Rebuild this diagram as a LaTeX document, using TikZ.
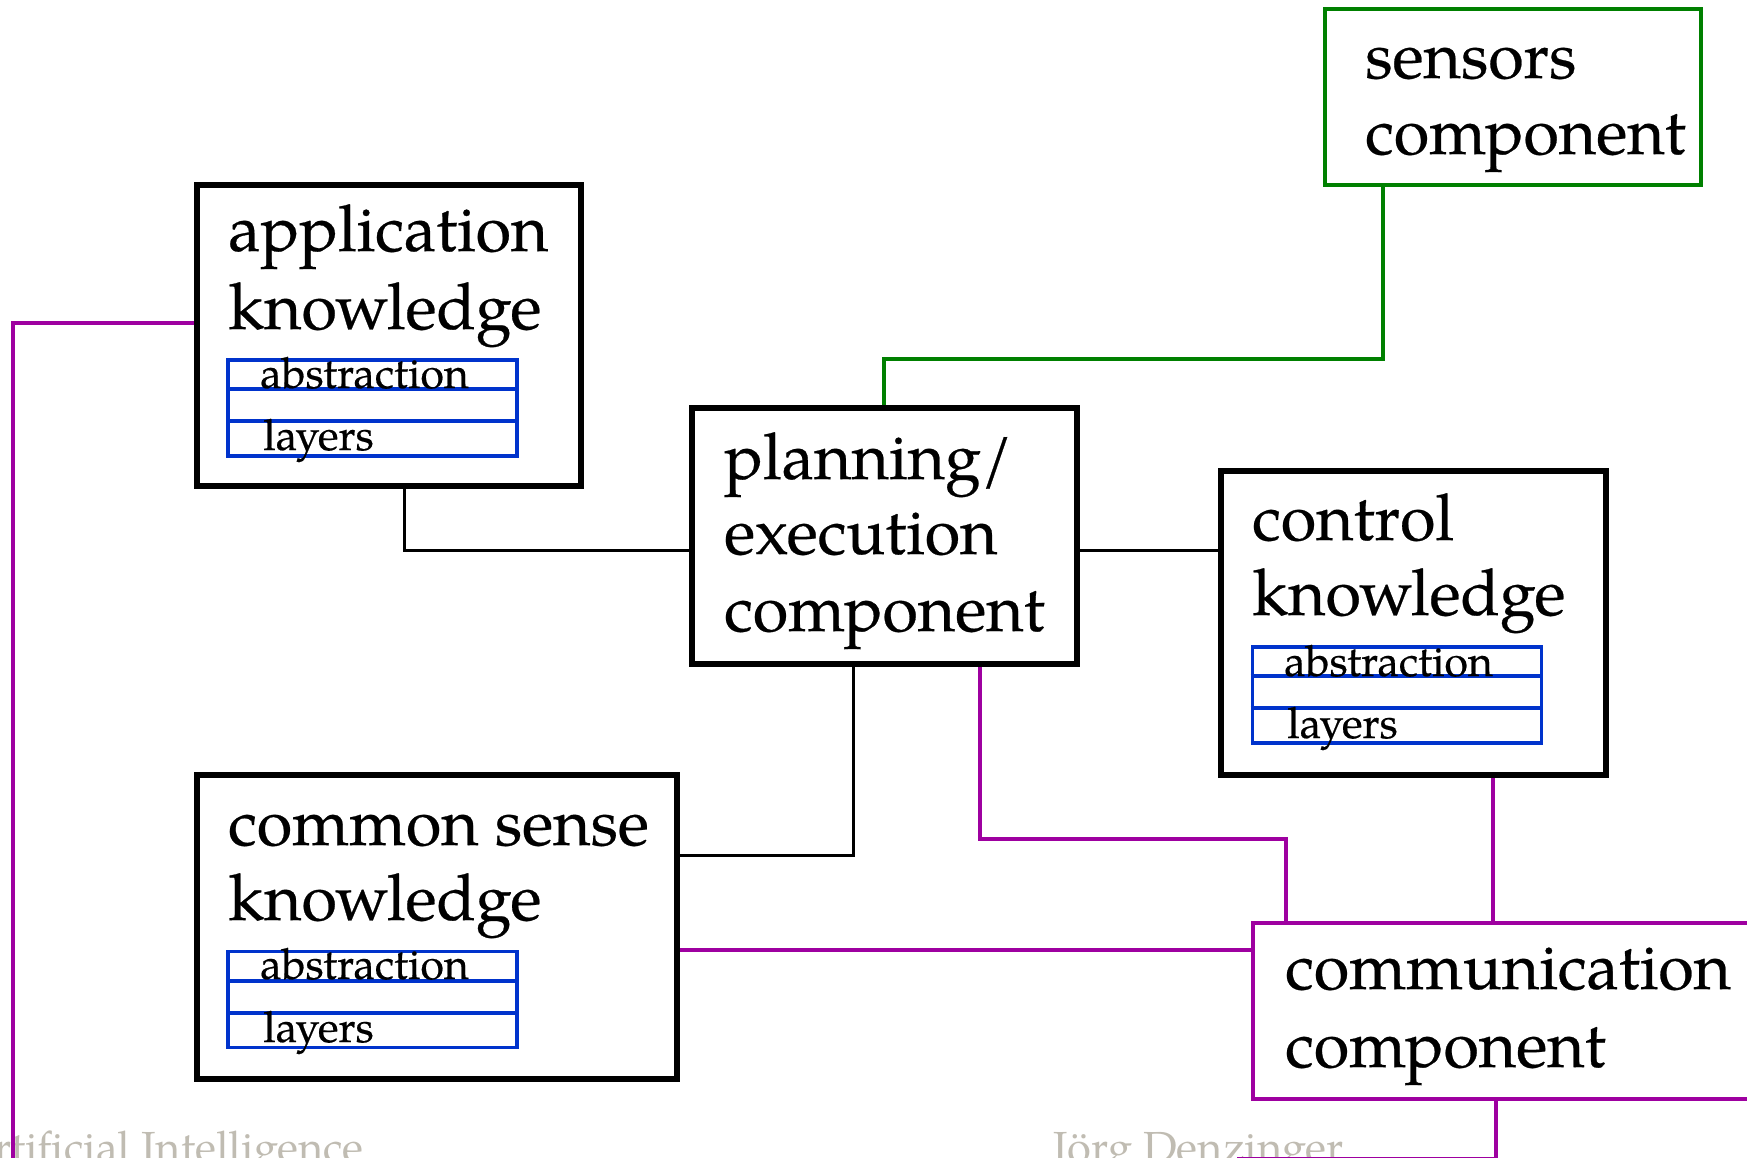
\documentclass[tikz,border=0pt]{standalone}
\usepackage{fontspec}
\setmainfont{texgyrepagella-regular.otf}[FakeBold=0.4]
\newfontfamily\footfont{texgyrepagella-regular.otf}
\definecolor{pur}{RGB}{158,0,160}
\definecolor{grn}{RGB}{0,128,0}
\definecolor{blu}{RGB}{0,51,204}
\definecolor{foot}{RGB}{192,188,178}
\begin{document}
\begin{tikzpicture}[x=1pt,y=-1pt,
  kbox/.style={draw=black, line width=5.5pt, rectangle, inner sep=0pt},
  pbox/.style={draw=pur, line width=3.5pt, rectangle, inner sep=0pt},
  gbox/.style={draw=grn, line width=3.5pt, rectangle, inner sep=0pt},
  lbox/.style={draw=blu, line width=3.6pt, rectangle, inner sep=0pt, minimum width=289pt, minimum height=96pt},
  bigtxt/.style={anchor=base west, inner sep=0pt, font=\fontsize{64.5}{76}\selectfont},
  smtxt/.style={anchor=base west, inner sep=0pt, font=\fontsize{43}{50}\selectfont},
  foottxt/.style={anchor=base west, inner sep=0pt, text=foot, font=\footfont\fontsize{43.5}{50}\selectfont},
  blk/.style={draw=black, line width=3pt},
  pl/.style={draw=pur, line width=3.5pt},
  gl/.style={draw=grn, line width=4pt}]
\useasboundingbox (0,0) rectangle (1747,1158);
\fill[white] (0,0) rectangle (1747,1158);

% footer
\node[foottxt] (ft1) at (-40,1162) {Artificial Intelligence};
\node[foottxt] (ft2) at (1053,1162) {Jörg Denzinger};

% boxes
\node[gbox, minimum width=376pt, minimum height=176pt] (sens) at (1513,97) {};
\node[kbox, minimum width=384pt, minimum height=301pt] (app) at (389,335.5) {};
\node[kbox, minimum width=385pt, minimum height=256pt] (plan) at (884.5,536) {};
\node[kbox, minimum width=385pt, minimum height=304pt] (ctrl) at (1413.5,623) {};
\node[kbox, minimum width=480pt, minimum height=304pt] (cs) at (437,927) {};
\node[pbox, minimum width=527pt, minimum height=176pt] (comm) at (1516.5,1011) {};

% layer boxes
\node[lbox] (appL) at (372.5,408) {};
\node[lbox] (ctrlL) at (1397,695) {};
\node[lbox] (csL) at (372.5,999.5) {};
\foreach \n in {appL,ctrlL,csL}{
  \draw[blu, line width=3.6pt] ([yshift=-31pt]\n.north west) -- ([yshift=-31pt]\n.north east);
  \draw[blu, line width=3.6pt] ([yshift=-63pt]\n.north west) -- ([yshift=-63pt]\n.north east);
}

% texts
\node[bigtxt] (t1) at (1365,78) {sensors};
\node[bigtxt] (t2) at (1365,154) {component};
\node[bigtxt] (t3) at (228,251) {application};
\node[bigtxt] (t4) at (228,329) {knowledge};
\node[smtxt] (t5) at (260,388) {abstraction};
\node[smtxt] (t6) at (263,450) {layers};
\node[bigtxt] (t7) at (724,479) {planning/};
\node[bigtxt] (t8) at (724,554) {execution};
\node[bigtxt] (t9) at (724,631) {component};
\node[bigtxt] (t10) at (1252,540) {control};
\node[bigtxt] (t11) at (1252,615) {knowledge};
\node[smtxt] (t12) at (1284,676) {abstraction};
\node[smtxt] (t13) at (1287,738) {layers};
\node[bigtxt] (t14) at (228,845) {common sense};
\node[bigtxt] (t15) at (228,920) {knowledge};
\node[smtxt] (t16) at (260,979) {abstraction};
\node[smtxt] (t17) at (263,1042) {layers};
\node[bigtxt] (t18) at (1285,989) {communication};
\node[bigtxt] (t19) at (1285,1067) {component};

% connector corner coordinates
\coordinate (g1) at (1383,359);
\coordinate (g2) at (884,359);
\coordinate (b1) at (404,550);
\coordinate (b2) at (853,855);
\coordinate (p1) at (13,323);
\coordinate (p2) at (13,1170);
\coordinate (p3) at (980,839);
\coordinate (p4) at (1286,839);
\coordinate (p5) at (1493,0);
\coordinate (p6) at (0,950);
\coordinate (p7) at (1496,1158.5);
\coordinate (p8) at (1237,1158.5);

% green
\draw[gl] (sens.south -| g1) -- (g1) -- (g2) -- (plan.north -| g2);

% black
\draw[blk] (app.south -| b1) -- (b1) -- (plan.west |- b1);
\draw[blk] (plan.east |- b1) -- (ctrl.west |- b1);
\draw[blk] (plan.south -| b2) -- (b2) -- (cs.east |- b2);

% purple
\draw[pl] (app.west |- p1) -- (p1) -- (p2);
\draw[pl] (plan.south -| p3) -- (p3) -- (p4) -- (comm.north -| p4);
\draw[pl] (ctrl.south -| p5) -- (comm.north -| p5);
\draw[pl] (cs.east |- p6) -- (comm.west |- p6);
\draw[pl] (comm.south -| p7) -- (p7) -- (p8);
\end{tikzpicture}
\end{document}
